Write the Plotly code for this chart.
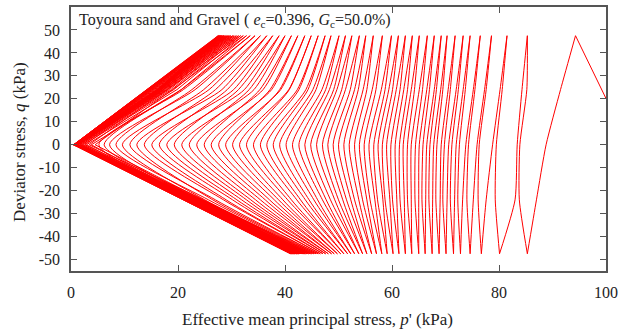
import plotly.graph_objects as go

# ---- data (kPa) ----
Q_PEAK = 47.5      # deviator stress at compression peaks
Q_TROUGH = -47.5   # deviator stress at extension troughs
Q_MID = 24.0       # intermediate stress level used for the path shape
P_START = 104.2    # p' at the start of loading (q = 0)
N_SMOOTH = 38      # cycles drawn as smooth curves (later ones run straight through the origin)

# p' at each compression peak (q = Q_PEAK), cycle 0..61
p_peak = [94.3, 85.3, 81.5, 78.6, 76.5, 74.6, 73.3, 71.8, 70.3, 69.2,
          67.9, 66.6, 65.1, 63.8, 62.5, 61.2, 59.9, 58.2, 56.5, 55.1,
          53.9, 52.5, 51.3, 50.1, 48.6, 47.5, 46.2, 44.9, 43.7, 42.4,
          41.2, 40.0, 38.9, 37.7, 36.6, 35.4, 34.4, 33.5, 32.8, 32.2,
          31.7, 31.3, 30.9, 30.5, 30.2, 29.9, 29.6, 29.4, 29.2, 29.0,
          28.8, 28.6, 28.5, 28.4, 28.2, 28.1, 28.0, 27.9, 27.8, 27.7,
          27.6, 27.5]

# p' at each extension trough (q = Q_TROUGH), following peak i
p_trough = [85.3, 80.1, 76.7, 74.6, 72.8, 71.5, 70.1, 68.8, 67.5, 66.2,
            65.0, 63.7, 62.5, 61.3, 60.2, 59.1, 58.1, 57.1, 56.2, 55.3,
            54.5, 53.8, 53.0, 52.3, 51.7, 51.0, 50.4, 49.8, 49.2, 48.7,
            48.1, 47.6, 47.1, 46.6, 46.2, 45.8, 45.4, 45.0, 44.7, 44.4,
            44.1, 43.8, 43.6, 43.4, 43.2, 43.0, 42.8, 42.6, 42.5, 42.3,
            42.2, 42.1, 41.9, 41.8, 41.7, 41.6, 41.5, 41.4, 41.3, 41.2,
            41.1, 41.0]

# unloading path (peak i -> trough i): p' at q = +24, 0, -24
down_p_q24 = [91.5, 84.3, 80.2, 77.3, 75.2, 73.3, 72.0, 70.5, 69.1, 67.9,
              66.5, 65.1, 63.6, 62.2, 60.8, 59.4, 58.0, 56.3, 54.6, 53.0,
              51.3, 49.7, 48.3, 46.9, 45.2, 43.9, 42.3, 40.7, 39.2, 37.5,
              35.9, 34.2, 32.4, 30.4, 28.2, 25.8, 23.2, 21.0, 20.6, 19.8,
              19.2, 18.8, 18.4, 18.1, 17.9, 17.7, 17.5, 17.3, 17.2, 17.1,
              16.9, 16.8, 16.7, 16.7, 16.6, 16.5, 16.4, 16.4, 16.3, 16.2,
              16.2, 16.1]
down_p_q0 = [88.8, 83.4, 78.8, 75.9, 73.8, 72.0, 70.6, 69.2, 67.8, 66.5,
             65.1, 63.6, 62.1, 60.6, 59.0, 57.4, 55.7, 53.9, 52.0, 50.0,
             48.0, 45.9, 43.7, 41.4, 39.0, 36.6, 34.1, 31.5, 28.9, 26.2,
             23.5, 20.7, 17.9, 15.1, 12.3, 9.6, 7.2, 5.2, 3.8, 2.9,
             2.3, 1.9, 1.6, 1.3, 1.2, 1.1, 1.0, 0.9, 0.9, 0.8,
             0.8, 0.7, 0.7, 0.7, 0.6, 0.6, 0.6, 0.6, 0.5, 0.5,
             0.5, 0.5]
down_p_qm24 = [87.0, 83.0, 77.6, 75.2, 73.2, 71.7, 70.3, 69.0, 67.6, 66.3,
               65.0, 63.6, 62.3, 60.9, 59.6, 58.3, 56.8, 55.3, 53.8, 52.3,
               50.8, 49.3, 47.7, 46.1, 44.5, 42.9, 41.2, 39.6, 38.0, 36.3,
               34.5, 32.8, 31.0, 29.0, 26.5, 25.0, 24.0, 23.0, 22.8, 22.7,
               22.5, 22.4, 22.3, 22.2, 22.1, 22.0, 21.9, 21.8, 21.7, 21.6,
               21.5, 21.5, 21.4, 21.3, 21.3, 21.2, 21.2, 21.1, 21.1, 21.0,
               21.0, 20.9]

# reloading path (trough i-1 -> peak i, cycles 1..61): p' at q = -24, 0, +24
up_p_qm24 = [83.8, 79.3, 76.1, 74.0, 72.3, 70.9, 69.5, 68.2, 66.9, 65.6,
             64.3, 62.9, 61.5, 60.1, 58.7, 57.3, 55.9, 54.5, 53.0, 51.5,
             50.0, 48.5, 47.0, 45.4, 43.8, 42.2, 40.5, 38.8, 37.1, 35.4,
             33.6, 31.9, 30.2, 28.5, 27.0, 25.7, 24.8, 24.6, 24.5, 24.3,
             24.2, 24.1, 24.0, 23.9, 23.8, 23.7, 23.6, 23.5, 23.4, 23.3,
             23.3, 23.2, 23.1, 23.0, 23.0, 22.9, 22.9, 22.8, 22.8, 22.7,
             22.7]
up_p_q0 = [83.9, 79.5, 76.3, 74.3, 72.6, 71.2, 69.8, 68.4, 67.1, 65.8,
           64.4, 62.9, 61.4, 59.8, 58.2, 56.6, 54.8, 53.0, 51.0, 49.0,
           47.0, 44.8, 42.6, 40.2, 37.8, 35.4, 32.8, 30.2, 27.6, 24.9,
           22.1, 19.3, 16.5, 13.7, 11.0, 8.4, 6.2, 4.5, 3.4, 2.6,
           2.1, 1.7, 1.4, 1.3, 1.2, 1.1, 1.0, 0.9, 0.9, 0.8,
           0.8, 0.7, 0.7, 0.7, 0.6, 0.6, 0.6, 0.5, 0.5, 0.5,
           0.5]
up_p_q24 = [85.2, 80.6, 77.6, 75.5, 73.7, 72.4, 70.9, 69.5, 68.3, 67.0,
            65.7, 64.2, 62.9, 61.5, 60.1, 58.7, 57.0, 55.3, 53.7, 52.2,
            50.6, 49.1, 47.6, 45.8, 44.3, 42.6, 40.8, 39.0, 37.2, 35.3,
            33.3, 31.3, 29.2, 27.0, 24.8, 22.6, 20.6, 19.0, 17.9, 17.3,
            16.8, 16.4, 16.1, 15.9, 15.7, 15.5, 15.3, 15.2, 15.1, 14.9,
            14.8, 14.7, 14.7, 14.6, 14.5, 14.4, 14.4, 14.3, 14.2, 14.2,
            14.1]

x_ticks = [0, 20, 40, 60, 80, 100]
y_ticks = [-50, -40, -30, -20, -10, 0, 10, 20, 30, 40, 50]

# ---- assemble the stress path: one sub-path per half cycle ----
curved_p, curved_q = [P_START, p_peak[0], None], [0.0, Q_PEAK, None]
straight_p, straight_q = [], []
for i in range(len(p_peak)):
    tp, tq = (curved_p, curved_q) if i < N_SMOOTH else (straight_p, straight_q)
    if i > 0:
        tp += [p_trough[i - 1], up_p_qm24[i - 1], up_p_q0[i - 1],
               up_p_q24[i - 1], p_peak[i], None]
        tq += [Q_TROUGH, -Q_MID, 0.0, Q_MID, Q_PEAK, None]
    tp += [p_peak[i], down_p_q24[i], down_p_q0[i], down_p_qm24[i],
           p_trough[i], None]
    tq += [Q_PEAK, Q_MID, 0.0, -Q_MID, Q_TROUGH, None]

FONT = "Liberation Serif"
AX = "#555555"
TXT = "#222222"
RED = "#ff0000"

fig = go.Figure()
fig.add_trace(go.Scatter(x=straight_p, y=straight_q, mode="lines",
                         connectgaps=False,
                         line=dict(color=RED, width=1),
                         hoverinfo="skip", showlegend=False))
fig.add_trace(go.Scatter(x=curved_p, y=curved_q, mode="lines",
                         connectgaps=False,
                         line=dict(color=RED, width=1,
                                   shape="spline", smoothing=0.6),
                         hoverinfo="skip", showlegend=False))

fig.update_layout(
    width=630, height=335,
    margin=dict(l=71, r=24, t=5, b=64),
    paper_bgcolor="white", plot_bgcolor="white",
    font=dict(family=FONT, size=16, color=TXT),
    showlegend=False,
)
fig.update_xaxes(range=[0, 100], tickvals=x_ticks,
                 ticktext=[str(v) for v in x_ticks],
                 ticks="inside", ticklen=6, tickwidth=1.2, tickcolor=AX,
                 showline=True, linecolor=AX, linewidth=1.5, mirror="ticks",
                 showgrid=False, zeroline=False, ticklabelstandoff=6)
fig.update_yaxes(range=[-55, 60], tickvals=y_ticks,
                 ticktext=[str(v) for v in y_ticks],
                 ticks="inside", ticklen=6, tickwidth=1.2, tickcolor=AX,
                 showline=True, linecolor=AX, linewidth=1.5, mirror="ticks",
                 showgrid=False, zeroline=False, ticklabelstandoff=6)

fig.add_annotation(text="Effective mean principal stress, <i>p</i>' (kPa)",
                   xref="paper", yref="paper", x=0.46, y=-0.184,
                   xanchor="center", yanchor="middle", showarrow=False,
                   font=dict(family=FONT, size=17, color=TXT))
fig.add_annotation(text="Deviator stress, <i>q</i> (kPa)",
                   xref="paper", yref="paper", x=-0.0953, y=0.489,
                   xanchor="center", yanchor="middle", textangle=-90,
                   showarrow=False,
                   font=dict(family=FONT, size=17, color=TXT))
fig.add_annotation(text="Toyoura sand and Gravel ( <i>e</i><sub>c</sub>=0.396, <i>G</i><sub>c</sub>=50.0%)",
                   xref="paper", yref="paper", x=0.011, y=0.947,
                   xanchor="left", yanchor="middle", showarrow=False,
                   font=dict(family=FONT, size=16, color=TXT))

fig.write_html("out.html")
